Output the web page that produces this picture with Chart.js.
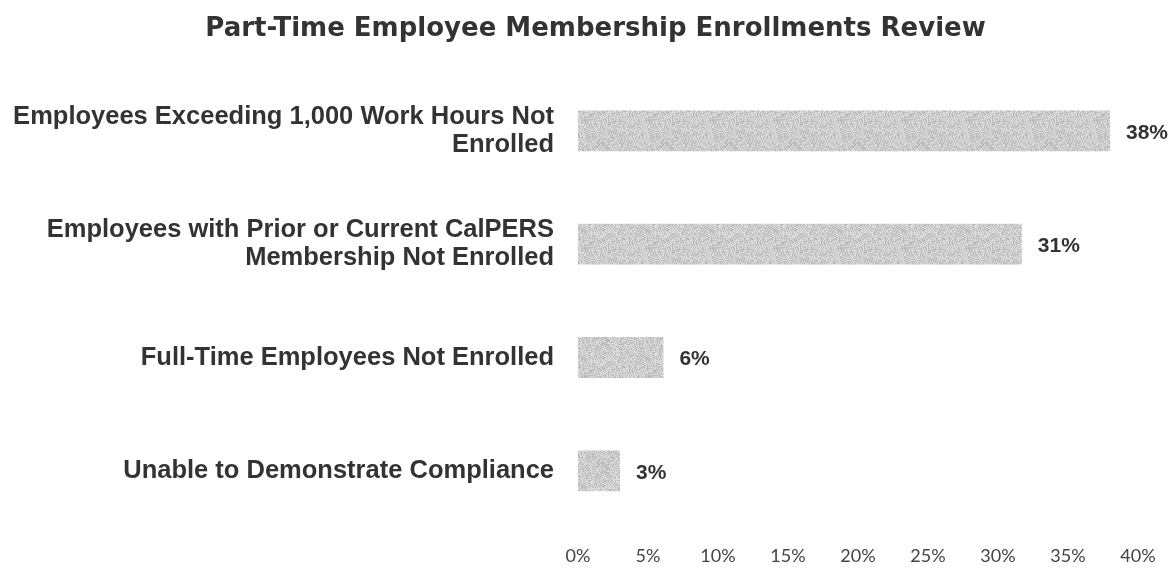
<!DOCTYPE html>
<html>
<head>
<meta charset="utf-8">
<script src="https://cdn.jsdelivr.net/npm/chart.js@4"></script>
<style>
  html, body { margin: 0; padding: 0; background: #fff; }
  #wrap { width: 1171px; height: 572px; }
</style>
</head>
<body>
<div id="wrap"><canvas id="chart" width="1171" height="572"></canvas></div>
<script>
const categories = [
  ['Employees Exceeding 1,000 Work Hours Not', 'Enrolled'],
  ['Employees with Prior or Current CalPERS', 'Membership Not Enrolled'],
  'Full-Time Employees Not Enrolled',
  'Unable to Demonstrate Compliance'
];
const shares = [38, 31.7, 6.1, 3];
const shareLabels = ['38%', '31%', '6%', '3%'];
const tickValues = [0, 5, 10, 15, 20, 25, 30, 35, 40];

// grainy grey fill like the scanned bars
function grainPattern() {
  const c = document.createElement('canvas');
  c.width = 64; c.height = 64;
  const g = c.getContext('2d');
  const img = g.createImageData(64, 64);
  let s = 12345;
  for (let i = 0; i < 64 * 64; i++) {
    s = (s * 1103515245 + 12345) & 0x7fffffff;
    const v = 180 + (s % 52);
    img.data[i * 4] = v; img.data[i * 4 + 1] = v; img.data[i * 4 + 2] = v; img.data[i * 4 + 3] = 255;
  }
  g.putImageData(img, 0, 0);
  return g.createPattern(c, 'repeat');
}

const valueLabels = {
  id: 'valueLabels',
  afterLayout(chart) {
    // let the long category labels run into the left padding
    chart.scales.y.left = 0;
  },
  afterDatasetsDraw(chart) {
    const ctx = chart.ctx;
    const meta = chart.getDatasetMeta(0);
    ctx.save();
    ctx.font = 'bold 21px "Liberation Sans", Arial, sans-serif';
    ctx.fillStyle = '#333';
    ctx.textBaseline = 'middle';
    meta.data.forEach((bar, i) => {
      ctx.fillText(shareLabels[i], bar.x + 16, bar.y + 2);
    });
    ctx.restore();
  }
};

new Chart(document.getElementById('chart').getContext('2d'), {
  type: 'bar',
  data: {
    labels: categories,
    datasets: [{
      data: shares,
      backgroundColor: grainPattern(),
      barPercentage: 0.36,
      categoryPercentage: 1
    }]
  },
  options: {
    indexAxis: 'y',
    responsive: false,
    animation: false,
    layout: { padding: { left: 30, right: 10, top: 0, bottom: 0 } },
    plugins: {
      legend: { display: false },
      tooltip: { enabled: false },
      title: {
        display: true,
        text: 'Part-Time Employee Membership Enrollments Review',
        color: '#333',
        font: { family: '"DejaVu Sans", sans-serif', size: 26, weight: 'bold' },
        padding: { top: 14, bottom: 29 }
      }
    },
    scales: {
      x: {
        min: 0,
        max: 40,
        grid: { display: false, drawTicks: false },
        border: { display: false },
        afterBuildTicks(scale) { scale.ticks = tickValues.map(v => ({ value: v })); },
        afterFit(scale) {
          scale.height = 44.5;
          scale.paddingRight = 33;
        },
        ticks: {
          color: '#444',
          padding: 18,
          font: { family: 'Lato, "Open Sans", sans-serif', size: 18 },
          callback: v => v + '%'
        }
      },
      y: {
        grid: { display: false, drawTicks: false },
        border: { display: false },
        afterFit(scale) {
          scale.width = 548;
          scale.paddingTop = 0;
          scale.paddingBottom = 0;
        },
        ticks: {
          color: '#333',
          padding: 24,
          font: { family: '"Liberation Sans", Arial, sans-serif', size: 25.5, weight: 'bold', lineHeight: 1.1 }
        }
      }
    }
  },
  plugins: [valueLabels]
});
</script>
</body>
</html>
